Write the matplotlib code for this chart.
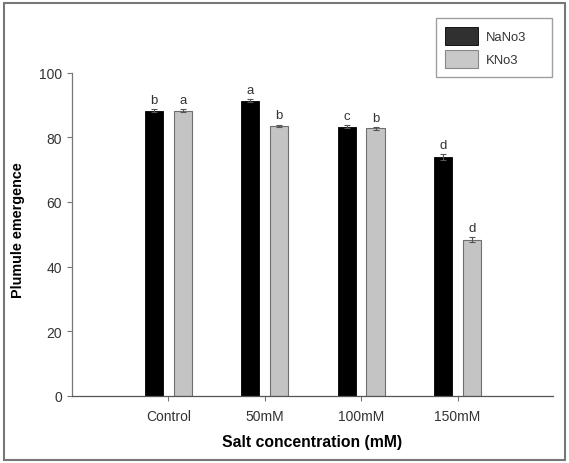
import matplotlib
matplotlib.use("Agg")
import matplotlib.pyplot as plt
import numpy as np
from matplotlib.patches import Rectangle

categories = ["Control", "50mM", "100mM", "150mM"]
nano3 = [88.2, 91.3, 83.3, 73.8]
kno3 = [88.2, 83.5, 82.7, 48.3]
nano3_err = [0.5, 0.4, 0.4, 1.0]
kno3_err = [0.5, 0.4, 0.5, 0.8]
nano3_letters = ["b", "a", "c", "d"]
kno3_letters = ["a", "b", "b", "d"]
yticks = [0, 20, 40, 60, 80, 100]

plt.rcParams['font.family'] = ['Liberation Sans', 'DejaVu Sans']

fig = plt.figure(figsize=(5.69, 4.64), dpi=100)
ax = fig.add_axes([72/569, 1-397/464, (553-72)/569, (397-73.5)/464])

x = np.arange(len(categories))
w = 0.19
off = 0.15
ax.bar(x - off, nano3, width=w, color="black", edgecolor="black", linewidth=0.6,
       yerr=nano3_err, error_kw=dict(ecolor="#555555", elinewidth=0.8, capsize=2.5, capthick=0.8),
       label="NaNo3", zorder=2)
ax.bar(x + off, kno3, width=w, color="#c4c4c4", edgecolor="#6e6e6e", linewidth=0.8,
       yerr=kno3_err, error_kw=dict(ecolor="#555555", elinewidth=0.8, capsize=2.5, capthick=0.8),
       label="KNo3", zorder=2)

for i in range(len(categories)):
    ax.text(x[i] - off, nano3[i] + nano3_err[i] + 1.0, nano3_letters[i], ha="center", va="bottom",
            fontsize=9.5, color="#333333")
    ax.text(x[i] + off, kno3[i] + kno3_err[i] + 1.0, kno3_letters[i], ha="center", va="bottom",
            fontsize=9.5, color="#333333")

ax.set_xlim(-1.0, 3.99)
ax.set_ylim(0, 100)
ax.set_yticks(yticks)
ax.set_xticks(x)
ax.set_xticklabels(categories)
for s in ["top", "right"]:
    ax.spines[s].set_visible(False)
ax.spines["left"].set_color("#777777")
ax.spines["bottom"].set_color("#555555")
ax.spines["left"].set_linewidth(0.9)
ax.spines["bottom"].set_linewidth(0.9)
ax.tick_params(axis="y", direction="out", length=3.6, width=0.8, color="#777777",
               labelsize=10, labelcolor="#333333", pad=3.6)
ax.tick_params(axis="x", direction="out", length=3.6, width=0.8, color="#777777",
               labelsize=10, labelcolor="#333333", pad=5.5)

ax.set_ylabel("Plumule emergence", fontsize=10.4, fontweight="bold")
ax.set_xlabel("Salt concentration (mM)", fontsize=11.3, fontweight="bold")
ax.yaxis.set_label_coords((18-72)/481, (397-230)/323.5)
ax.yaxis.label.set_va("center")
ax.xaxis.set_label_coords((312-72)/481, (397-443)/323.5)
ax.xaxis.label.set_va("center")

leg = fig.legend(loc="upper left", bbox_to_anchor=(436/569, 0, 116/569, 1-19/464), mode="expand",
                 fontsize=9.4, frameon=True, fancybox=False, edgecolor="#888888",
                 handlelength=2.54, handleheight=1.75, borderpad=0.7, labelspacing=0.35,
                 handletextpad=0.6, borderaxespad=0)
leg.get_frame().set_linewidth(1.0)
for t in leg.get_texts():
    t.set_color("#333333")
leg.legend_handles[0].set_facecolor("#303030")
leg.legend_handles[1].set_facecolor("#c8c8c8")
leg.legend_handles[1].set_edgecolor("#888888")

fig.patches.append(Rectangle((4/569, 3/464), 561/569, 457/464, transform=fig.transFigure,
                             fill=False, edgecolor="#777777", linewidth=1.5))

fig.savefig("out.png", dpi=100)
